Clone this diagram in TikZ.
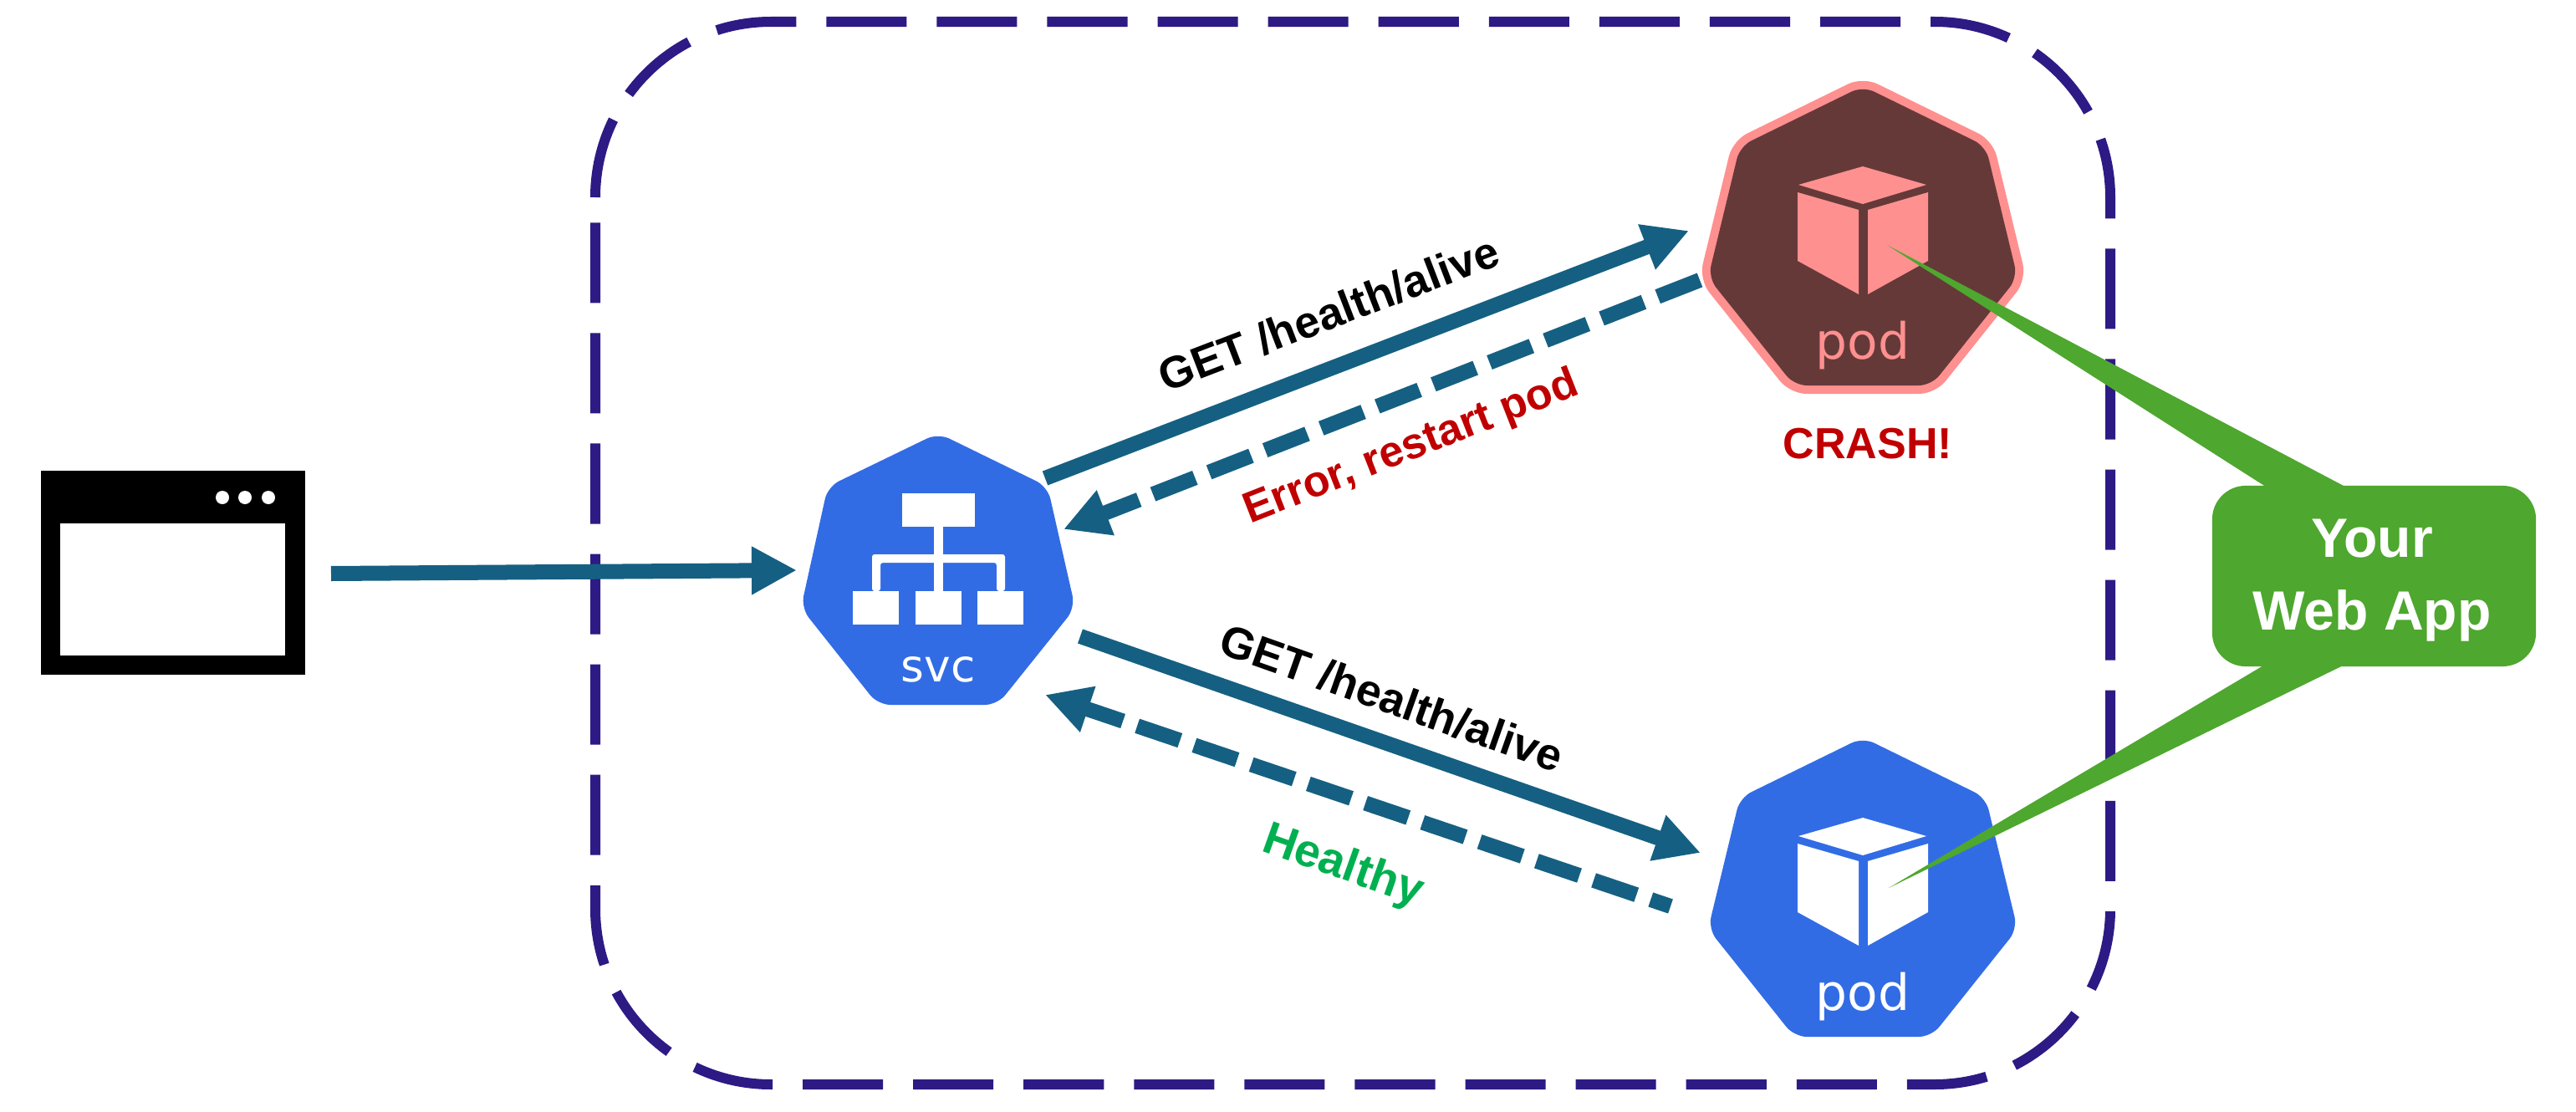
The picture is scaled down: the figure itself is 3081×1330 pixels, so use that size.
\documentclass[tikz,border=0pt]{standalone}
\usepackage{fontspec}
\setmainfont{Liberation Sans}
\newfontfamily\iconfont{DejaVu Sans}
\usetikzlibrary{arrows.meta}
\definecolor{arrowblue}{HTML}{156082}
\definecolor{boxpurple}{HTML}{2E1A84}
\definecolor{k8sblue}{HTML}{326CE5}
\definecolor{crashdark}{HTML}{663939}
\definecolor{crashpink}{HTML}{FF9090}
\definecolor{appgreen}{HTML}{4EA72E}
\definecolor{errred}{HTML}{C00000}
\definecolor{okgreen}{HTML}{00B050}
\tikzset{
  flow/.style={draw=arrowblue,line width=0.18cm,-{Triangle[length=0.54cm,width=0.54cm]}},
  flowdash/.style={flow,dash pattern=on 0.54cm off 0.18cm},
  boxline/.style={draw=boxpurple,line width=0.12cm,dash pattern=on 0.96cm off 0.36cm},
  hexshape/.style={rounded corners=0.15cm},
  iconlabel/.style={anchor=base,inner sep=0pt,font=\iconfont\fontsize{15.2pt}{18pt}\selectfont},
  podlabel/.style={anchor=base,inner sep=0pt,font=\iconfont\fontsize{17pt}{20pt}\selectfont},
  steplabel/.style={inner sep=0pt,font=\bfseries\fontsize{15.2pt}{18pt}\selectfont},
  errlabel/.style={inner sep=0pt,font=\bfseries\fontsize{14.8pt}{18pt}\selectfont},
  oklabel/.style={inner sep=0pt,font=\bfseries\fontsize{15.7pt}{18pt}\selectfont},
  wedge/.style={fill=appgreen},
}
\newcommand{\podpath}{(2228,882) -- (2375,954) -- (2413,1111) -- (2310,1240) -- (2146,1240) -- (2043,1111) -- (2081,954) -- cycle}
\newcommand{\podcube}[1]{%
  \fill[#1] (2228,978) -- (2304,1000) -- (2228,1023) -- (2151,1000) -- cycle;
  \fill[#1] (2150,1009) -- (2223,1030) -- (2223,1131) -- (2150,1091) -- cycle;
  \fill[#1] (2306,1009) -- (2234,1030) -- (2234,1131) -- (2306,1091) -- cycle;
}
\begin{document}
\begin{tikzpicture}[x=0.01cm,y=-0.01cm]
\fill[white] (0,0) rectangle (3081,1330);
\useasboundingbox (0,0) rectangle (3081,1330);
% dashed boundary
\path[boxline] (712,236) .. controls (712,120) and (806,26) .. (922,26)
  -- (2314,26) .. controls (2430,26) and (2524,120) .. (2524,236)
  -- (2524,1087) .. controls (2524,1203) and (2430,1297) .. (2314,1297)
  -- (922,1297) .. controls (806,1297) and (712,1203) .. (712,1087) -- cycle;
% browser
\fill[black] (49,563) rectangle (365,807);
\fill[white] (72,626) rectangle (341,784);
\foreach \cx in {266,293,321} \fill[white] (\cx,595) circle[radius=0.08cm];
\coordinate (client) at (396,686);
% svc
\fill[k8sblue,hexshape] (1122,518) -- (1253,582) -- (1286,727) -- (1193,843) -- (1050,843) -- (958,727) -- (990,582) -- cycle;
\fill[white] (1079,590) rectangle (1166,630);
\fill[white] (1117,630) rectangle (1128,707);
\fill[white,rounded corners=0.03cm] (1043,707) -- (1043,663) -- (1202,663) -- (1202,707) -- (1192,707) -- (1192,673) -- (1053,673) -- (1053,707) -- cycle;
\fill[white] (1020,707) rectangle (1075,747);
\fill[white] (1095,707) rectangle (1150,747);
\fill[white] (1169,707) rectangle (1224,747);
\node[iconlabel,text=white] (svc) at (1122,815) {svc};
% healthy pod
\fill[k8sblue,hexshape] \podpath;
\podcube{white}
\node[podlabel,text=white] (okpod) at (2228,1208) {pod};
% crashed pod
\begin{scope}[shift={(0,-779)}]
\draw[crashpink,line width=0.2cm,line join=round,hexshape] \podpath;
\fill[crashdark,hexshape] \podpath;
\podcube{crashpink}
\node[podlabel,text=crashpink] (crashpod) at (2228,1208) {pod};
\end{scope}
% connector ends
\coordinate (svcin) at (953,682);
\coordinate (svcA) at (1250,572);
\coordinate (crashIn) at (2020,276);
\coordinate (crashOut) at (2033,335);
\coordinate (svcB) at (1272,633);
\coordinate (svcC) at (1292,761);
\coordinate (okIn) at (2034,1020);
\coordinate (okOut) at (1998,1084);
\coordinate (svcD) at (1250,831);
% connectors
\draw[flow] (client) -- (svcin);
\draw[flow] (svcA) -- (crashIn);
\draw[flowdash] (crashOut) -- (svcB);
\draw[flow] (svcC) -- (okIn);
\draw[flowdash,dash phase=0.29cm] (okOut) -- (svcD);
% labels
\node[steplabel,text=black,rotate=21] (l1) at (1589,375) {GET /health/alive};
\node[errlabel,text=errred,rotate=21.4] (l2) at (1688,536) {Error, restart pod};
\node[errlabel,text=errred] (l3) at (2234,531) {CRASH!};
\node[steplabel,text=black,rotate=-19.5] (l4) at (1665,835) {GET /health/alive};
\node[oklabel,text=okgreen,rotate=-19.5] (l5) at (1606,1037) {Healthy};
% callout
\coordinate (tipA) at (2257,293);
\coordinate (tipB) at (2259,1062);
\fill[wedge] (tipA) -- (2738,600) -- (2839,600) -- cycle;
\fill[wedge] (tipB) -- (2734,780) -- (2835,780) -- cycle;
\node[fill=appgreen,rounded corners=0.4cm,minimum width=3.87cm,minimum height=2.16cm,inner sep=0pt] (app) at (2839.5,689) {};
\node[text=white,inner sep=0pt,align=center,font=\bfseries\fontsize{18.8pt}{24.75pt}\selectfont] (apptext) at (2837,694) {Your\\Web App};
\end{tikzpicture}
\end{document}
